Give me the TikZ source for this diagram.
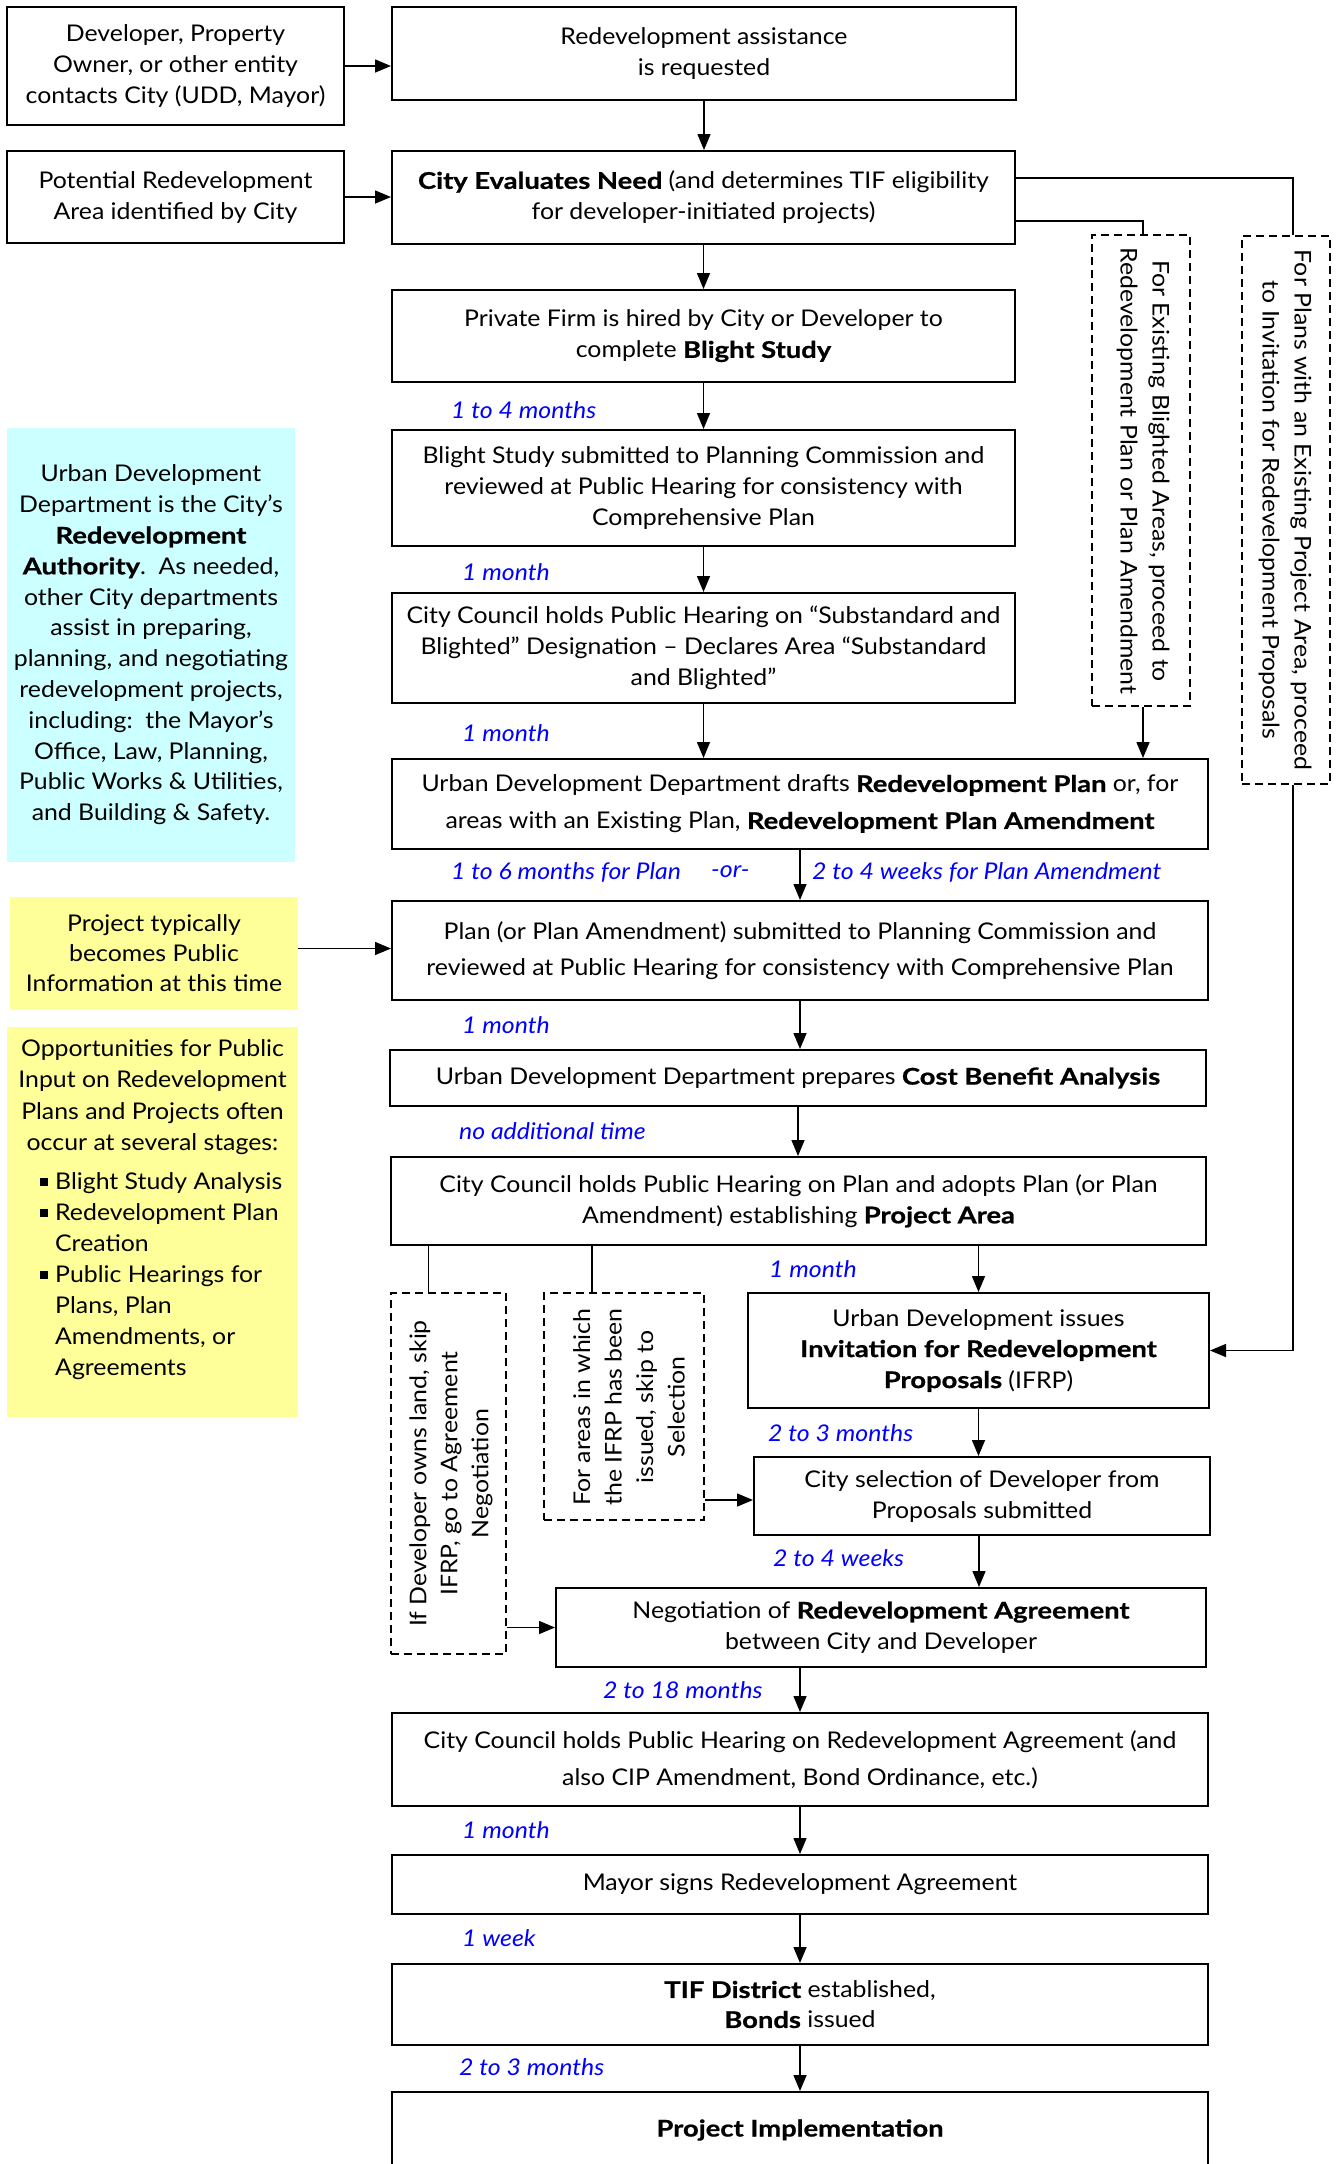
\documentclass[tikz,border=0pt]{standalone}
\usepackage{fontspec}
\setmainfont{Lato}[UprightFeatures={FakeStretch=1.08},ItalicFeatures={FakeStretch=1.08},BoldFeatures={FakeStretch=1.19,FakeBold=0.8}]
\usetikzlibrary{arrows.meta}
\definecolor{udblue}{RGB}{0,0,255}
\definecolor{cyanfill}{RGB}{204,255,255}
\definecolor{yellowfill}{RGB}{255,255,153}
\begin{document}
\begin{tikzpicture}[x=1pt,y=-1pt,
  every node/.style={font=\fontsize{23}{31}\selectfont, inner sep=0pt},
  box/.style={draw, line width=2pt, align=center},
  dbox/.style={draw, line width=1.6pt, dash pattern=on 8pt off 5pt},
  lbl/.style={anchor=west, text=udblue, font=\fontsize{23}{26}\selectfont\itshape},
  conn/.style={line width=1.5pt},
  arr/.style={conn, -{Triangle[length=16pt,width=13pt]}},
  rot/.style={align=center, font=\fontsize{23}{32}\selectfont},
]
\useasboundingbox (0,0) rectangle (1340,2164);
\fill[white] (0,0) rectangle (1340,2164);

% side notes
\node[fill=cyanfill, minimum width=288, minimum height=434, align=center,
      font=\fontsize{23}{30.8}\selectfont] (ud) at (151,645)
 {Urban Development\\ Department is the City’s\\ \textbf{Redevelopment}\\
  \textbf{Authority}.\ \ As needed,\\ other City departments\\ assist in preparing,\\
  planning, and negotiating\\ redevelopment projects,\\ including:\ \ the Mayor’s\\
  Office, Law, Planning,\\ Public Works \& Utilities,\\ and Building \& Safety.};
\node[fill=yellowfill, minimum width=288, minimum height=113, align=center,
      font=\fontsize{23}{30}\selectfont] (pub) at (154,953.5)
 {Project typically\\ becomes Public\\ Information at this time};
\node[fill=yellowfill, minimum width=291, minimum height=390] (opp) at (152.5,1222) {};
\node[align=center, font=\fontsize{23}{31.3}\selectfont] (opph) at (152.5,1097)
 {Opportunities for Public\\ Input on Redevelopment\\ Plans and Projects often\\ occur at several stages:};
\node[anchor=west, align=left, font=\fontsize{23}{31}\selectfont] (oppl) at (40,1276)
 {\makebox[15pt][l]{\rule[3pt]{8pt}{8pt}}Blight Study Analysis\\
  \makebox[15pt][l]{\rule[3pt]{8pt}{8pt}}Redevelopment Plan\\
  \hspace*{15pt}Creation\\
  \makebox[15pt][l]{\rule[3pt]{8pt}{8pt}}Public Hearings for\\
  \hspace*{15pt}Plans, Plan\\
  \hspace*{15pt}Amendments, or\\
  \hspace*{15pt}Agreements};

% main boxes
\node[box, minimum width=337, minimum height=118] (A) at (175.5,66)
 {Developer, Property\\ Owner, or other entity\\ contacts City (UDD, Mayor)};
\node[box, minimum width=624, minimum height=93] (B) at (704,53.5)
 {Redevelopment assistance\\ is requested};
\node[box, minimum width=337, minimum height=92] (C) at (175.5,197)
 {Potential Redevelopment\\ Area identified by City};
\node[box, minimum width=623, minimum height=93] (D) at (703.5,197.5)
 {\textbf{City Evaluates Need} (and determines TIF eligibility\\ for developer-initiated projects)};
\node[box, minimum width=623, minimum height=92] (E) at (703.5,336)
 {Private Firm is hired by City or Developer to\\ complete \textbf{Blight Study}};
\node[box, minimum width=623, minimum height=116] (F) at (703.5,488)
 {Blight Study submitted to Planning Commission and\\ reviewed at Public Hearing for consistency with\\ Comprehensive Plan};
\node[box, minimum width=623, minimum height=110] (G) at (703.5,648)
 {City Council holds Public Hearing on “Substandard and\\ Blighted” Designation – Declares Area “Substandard\\ and Blighted”};
\node[box, minimum width=816, minimum height=90, font=\fontsize{23}{37}\selectfont] (H) at (800,804)
 {Urban Development Department drafts \textbf{Redevelopment Plan} or, for\\ areas with an Existing Plan, \textbf{Redevelopment Plan Amendment}};
\node[box, minimum width=816, minimum height=99, font=\fontsize{23}{36}\selectfont] (I) at (800,950.5)
 {Plan (or Plan Amendment) submitted to Planning Commission and\\ reviewed at Public Hearing for consistency with Comprehensive Plan};
\node[box, minimum width=816, minimum height=56] (J) at (798,1078)
 {Urban Development Department prepares \textbf{Cost Benefit Analysis}};
\node[box, minimum width=815, minimum height=88] (K) at (798.5,1201)
 {City Council holds Public Hearing on Plan and adopts Plan (or Plan\\ Amendment) establishing \textbf{Project Area}};
\node[box, minimum width=461, minimum height=115] (L) at (978.5,1350.5)
 {Urban Development issues\\ \textbf{Invitation for Redevelopment}\\ \textbf{Proposals} (IFRP)};
\node[box, minimum width=456, minimum height=78] (M) at (982,1496)
 {City selection of Developer from\\ Proposals submitted};
\node[box, minimum width=650, minimum height=79] (N) at (881,1627.5)
 {Negotiation of \textbf{Redevelopment Agreement}\\ between City and Developer};
\node[box, minimum width=816, minimum height=93, font=\fontsize{23}{37}\selectfont] (O) at (800,1759.5)
 {City Council holds Public Hearing on Redevelopment Agreement (and\\ also CIP Amendment, Bond Ordinance, etc.)};
\node[box, minimum width=816, minimum height=59] (P) at (800,1884.5)
 {Mayor signs Redevelopment Agreement};
\node[box, minimum width=816, minimum height=81, font=\fontsize{23}{30}\selectfont] (Q) at (800,2004.5)
 {\textbf{TIF District} established,\\ \textbf{Bonds} issued};
\node[box, minimum width=816, minimum height=76] (R) at (800,2130)
 {\textbf{Project Implementation}};

% dashed boxes
\node[dbox, minimum width=98, minimum height=471] (DB1) at (1141,470.5) {};
\node[rot, rotate=-90] (DB1t) at (1143,471)
 {For Existing Blighted Areas, proceed to\\ Redevelopment Plan or Plan Amendment};
\node[dbox, minimum width=88, minimum height=548] (DB2) at (1286,510) {};
\node[rot, rotate=-90] (DB2t) at (1285,510)
 {For Plans with an Existing Project Area, proceed\\ to Invitation for Redevelopment Proposals};
\node[dbox, minimum width=115, minimum height=361] (DB3) at (448.5,1473.5) {};
\node[rot, rotate=90, font=\fontsize{23}{31}\selectfont] (DB3t) at (451,1473.5)
 {If Developer owns land, skip\\ IFRP, go to Agreement\\ Negotiation};
\node[dbox, minimum width=160, minimum height=227] (DB4) at (624,1406.5) {};
\node[rot, rotate=90, font=\fontsize{23}{31.5}\selectfont] (DB4t) at (629,1407)
 {For areas in which\\ the IFRP has been\\ issued, skip to\\ Selection};

% time labels
\node[lbl] (t1) at (451,410) {1 to 4 months};
\node[lbl] (t2) at (462,572) {1 month};
\node[lbl] (t3) at (462,733) {1 month};
\node[lbl] (t4a) at (451,872) {1 to 6 months for Plan};
\node[lbl] (t4b) at (711,872) {-or-};
\node[lbl] (t4c) at (812,872) {2 to 4 weeks for Plan Amendment};
\node[lbl] (t5) at (462,1025) {1 month};
\node[lbl] (t6) at (459,1131) {no additional time};
\node[lbl] (t7) at (769,1269) {1 month};
\node[lbl] (t8) at (768,1433) {2 to 3 months};
\node[lbl] (t9) at (773,1558) {2 to 4 weeks};
\node[lbl] (t10) at (603,1690) {2 to 18 months};
\node[lbl] (t11) at (462,1830) {1 month};
\node[lbl] (t12) at (462,1938) {1 week};
\node[lbl] (t13) at (459,2067) {2 to 3 months};

% connectors
\draw[arr] (A.east) -- (A.east -| B.west);
\draw[arr] (C.east) -- (C.east -| D.west);
\draw[arr] ([yshift=5pt]pub.east) -- ([yshift=5pt]pub.east -| I.west);
\draw[arr] (B.south) -- (B.south |- D.north);
\draw[arr] (D.south) -- (D.south |- E.north);
\draw[arr] (E.south) -- (E.south |- F.north);
\draw[arr] (F.south) -- (F.south |- G.north);
\draw[arr] (G.south) -- (G.south |- H.north);
\draw[conn] ([yshift=19.5pt]D.east) -| ([xshift=7pt]DB2.north);
\draw[conn] ([yshift=-23.5pt]D.east) -| ([xshift=2pt]DB1.north);
\draw[arr] ([xshift=2pt]DB1.south) -- ([xshift=2pt]DB1.south |- H.north);
\draw[arr] ([xshift=7pt]DB2.south) |- (L.east);
\draw[arr] (H.south) -- (H.south |- I.north);
\draw[arr] (I.south) -- (I.south |- J.north);
\draw[arr] (J.south) -- (J.south |- K.north);
\draw[arr] (L.north |- K.south) -- (L.north);
\draw[conn] ([xshift=-20pt]DB3.north) -- ([xshift=-20pt]DB3.north |- K.south);
\draw[conn] ([xshift=-32pt]DB4.north) -- ([xshift=-32pt]DB4.north |- K.south);
\draw[arr] ([yshift=-4pt]M.west -| DB4.east) -- ([yshift=-4pt]M.west);
\draw[arr] (N.west -| DB3.east) -- (N.west);
\draw[arr] (L.south) -- (L.south |- M.north);
\draw[arr] ([xshift=-3pt]M.south) -- ([xshift=-3pt]M.south |- N.north);
\draw[arr] (O.north |- N.south) -- (O.north);
\draw[arr] (O.south) -- (O.south |- P.north);
\draw[arr] (P.south) -- (P.south |- Q.north);
\draw[arr] (Q.south) -- (Q.south |- R.north);
\end{tikzpicture}
\end{document}
